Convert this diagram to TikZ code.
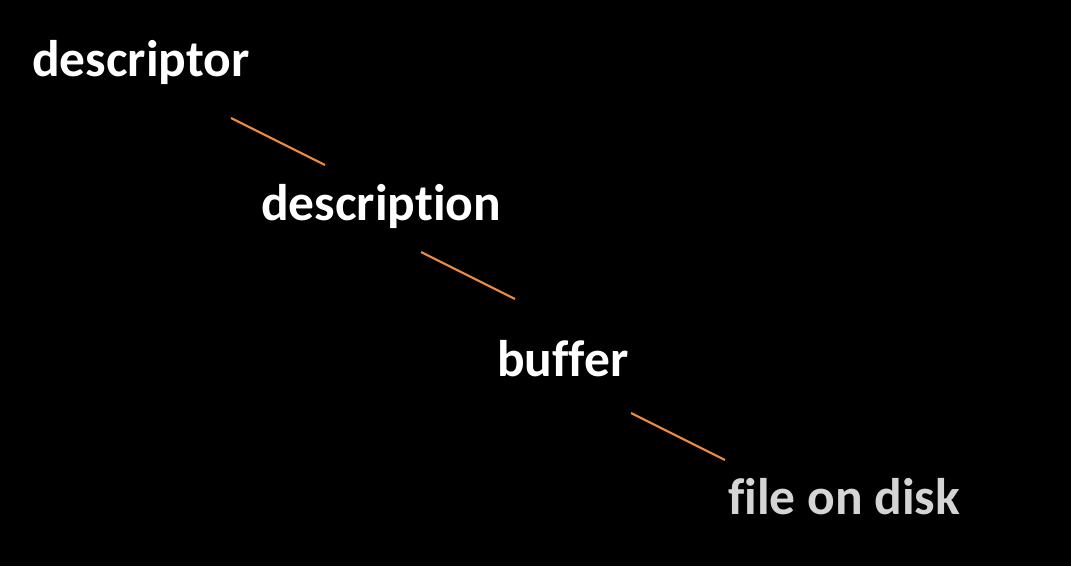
\documentclass[tikz,border=0pt]{standalone}
\usepackage{fontspec}
\setmainfont[RawFeature={-liga;-clig;-dlig;-calt}]{Carlito}
\definecolor{linkorange}{HTML}{EE8A3C}
\definecolor{diskgray}{HTML}{D4D4D4}
\begin{document}
\begin{tikzpicture}[x=1pt,y=-1pt,
  word/.style={anchor=base west,inner sep=0pt,font=\fontsize{51.5}{60}\selectfont\bfseries,text=white},
  link/.style={draw=linkorange,line width=2.2pt}]
\fill[black] (0,0) rectangle (1071,566);
\useasboundingbox (0,0) rectangle (1071,566);
\node[word] (desc) at (32,76) {descriptor};
\node[word] (descr) at (261,220) {description};
\node[word] (buf) at (497,376) {buffer};
\node[word,text=diskgray] (disk) at (728,514) {file on disk};
\coordinate (a1) at (231,118); \coordinate (a2) at (325,165);
\coordinate (b1) at (421,252); \coordinate (b2) at (515,299);
\coordinate (c1) at (631,413); \coordinate (c2) at (725,460);
\draw[link] (a1) -- (a2);
\draw[link] (b1) -- (b2);
\draw[link] (c1) -- (c2);
\end{tikzpicture}
\end{document}
